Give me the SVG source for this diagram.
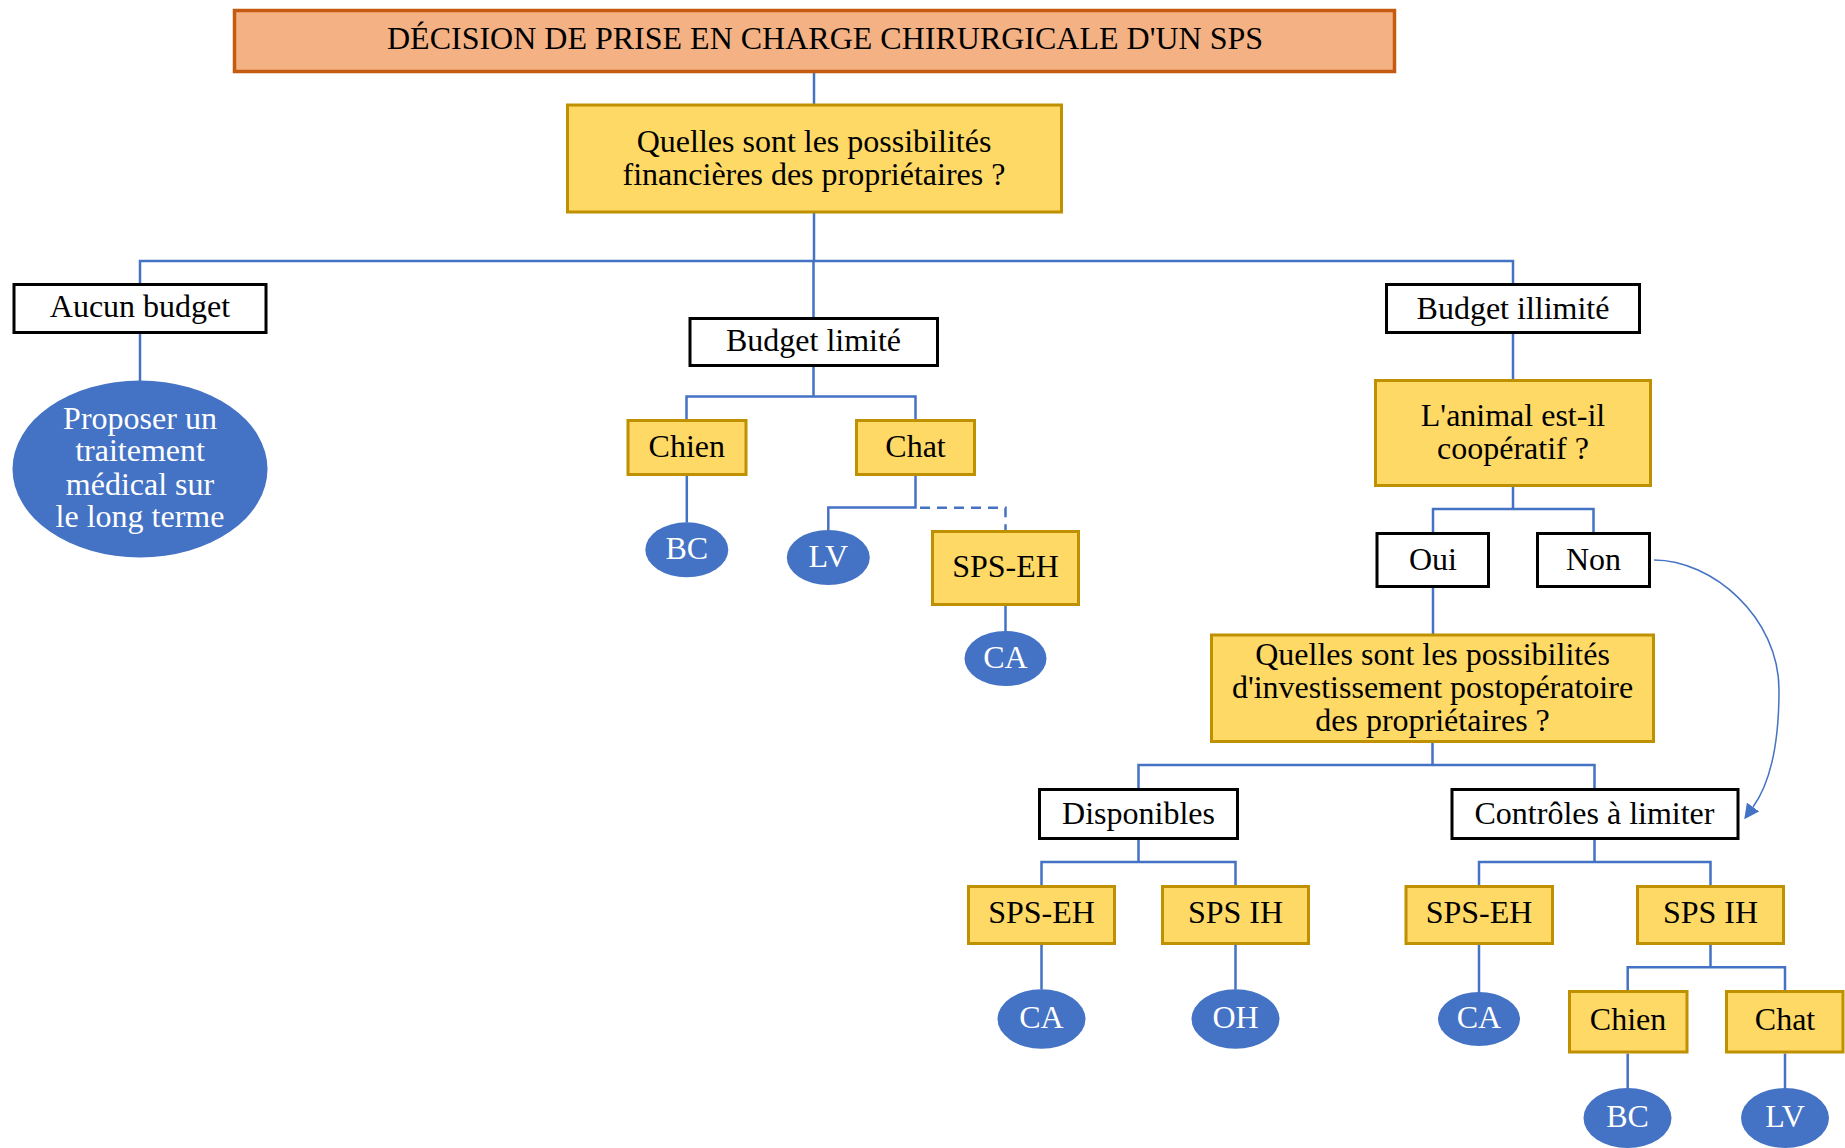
<svg xmlns="http://www.w3.org/2000/svg" width="1845" height="1148" viewBox="0 0 1845 1148">
<defs>
<style>
text{font-family:"Liberation Serif","Times New Roman",serif;font-size:32px;text-anchor:middle;fill:#000}
.title{fill:#F4B183;stroke:#C55A11;stroke-width:3.5}
.y{fill:#FFD966;stroke:#BF9000;stroke-width:3}
.w{fill:#FFFFFF;stroke:#000;stroke-width:3}
.e{fill:#4472C4;stroke:none}
.e text,text.wt{fill:#FFFFFF}
.c{fill:none;stroke:#4472C4;stroke-width:2.5}
.dash{stroke-dasharray:10 7}
.curve{fill:none;stroke:#4472C4;stroke-width:1.5}
</style>
<marker id="arr" markerUnits="userSpaceOnUse" markerWidth="15" markerHeight="15" viewBox="0 0 14 14" refX="0" refY="7" orient="auto">
<path d="M0,0 L14,7 L0,14 z" fill="#4472C4"/>
</marker>
</defs>
<rect width="1845" height="1148" fill="#FFFFFF"/>
<g id="connectors">
<path class="c" d="M814,73 V104"/>
<path class="c" d="M814,213 V261 M140,283 V261 H1513 V283 M813.5,261 V317"/>
<path class="c" d="M140,334 V381"/>
<path class="c" d="M813.5,367 V396.5 M686.5,419 V396.5 H915.5 V419"/>
<path class="c" d="M686.8,476 V522.5"/>
<path class="c" d="M915.5,476 V507.5 H828.3 V530"/>
<path class="c dash" d="M920,507.7 H1005.5 V530"/>
<path class="c" d="M1005.5,606 V631.5"/>
<path class="c" d="M1513,334 V379"/>
<path class="c" d="M1513,487 V509 M1433,532 V509 H1593.5 V532"/>
<path class="c" d="M1433,588 V634"/>
<path class="c" d="M1432.5,743 V765 M1138.5,788 V765 H1594.5 V788"/>
<path class="c" d="M1138.5,840 V862 M1041.5,885 V862 H1235.5 V885"/>
<path class="c" d="M1594.5,840 V862 M1479,885 V862 H1710.5 V885"/>
<path class="c" d="M1041.5,945 V989.5 M1235.5,945 V989.5 M1479,945 V992"/>
<path class="c" d="M1710.5,945 V967.3 M1627.7,990 V967.3 H1785 V990"/>
<path class="c" d="M1627.7,1053.5 V1088.5 M1785,1053.5 V1088.5"/>
<path class="curve" marker-end="url(#arr)" d="M1654,560 C1712,560 1779,617 1779,690 C1779,740 1771,782 1753,807"/>
</g>
<g id="n-title"><rect class="title" x="234.5" y="10.5" width="1160" height="61"/><text x="825" y="49">DÉCISION DE PRISE EN CHARGE CHIRURGICALE D'UN SPS</text></g>
<g id="n-q1"><rect class="y" x="567.5" y="105" width="494" height="107"/><text x="814" y="151.8">Quelles sont les possibilités</text><text x="814" y="184.8">financières des propriétaires ?</text></g>
<g id="n-aucun"><rect class="w" x="14" y="284.5" width="252" height="48"/><text x="140" y="317">Aucun budget</text></g>
<g id="n-proposer" class="e"><ellipse class="e" cx="140" cy="469" rx="127.5" ry="88.5"/><text x="140" y="428.5">Proposer un</text><text x="140" y="461">traitement</text><text x="140" y="494.5">médical sur</text><text x="140" y="527">le long terme</text></g>
<g id="n-limite"><rect class="w" x="690" y="318.5" width="247.5" height="47"/><text x="813.5" y="350.7">Budget limité</text></g>
<g id="n-illimite"><rect class="w" x="1386.5" y="284.5" width="253" height="48"/><text x="1513" y="318.5">Budget illimité</text></g>
<g id="n-chien1"><rect class="y" x="628" y="420.5" width="118" height="54"/><text x="686.8" y="456.7">Chien</text></g>
<g id="n-chat1"><rect class="y" x="856.5" y="420.5" width="118" height="54"/><text x="915.5" y="456.7">Chat</text></g>
<g id="n-bc1" class="e"><ellipse class="e" cx="686.8" cy="549.8" rx="41.5" ry="27.5"/><text x="686.8" y="558.5">BC</text></g>
<g id="n-lv1" class="e"><ellipse class="e" cx="828.3" cy="557.5" rx="41.5" ry="27.5"/><text x="828.3" y="566.5">LV</text></g>
<g id="n-spseh1"><rect class="y" x="932.5" y="531.5" width="146" height="73"/><text x="1005.5" y="576.7">SPS-EH</text></g>
<g id="n-ca1" class="e"><ellipse class="e" cx="1005.5" cy="658.5" rx="41" ry="27.5"/><text x="1005.5" y="667.7">CA</text></g>
<g id="n-animal"><rect class="y" x="1375.5" y="380.5" width="275" height="105"/><text x="1513" y="425.5">L'animal est-il</text><text x="1513" y="458.5">coopératif ?</text></g>
<g id="n-oui"><rect class="w" x="1377" y="533.5" width="111.5" height="53"/><text x="1433" y="570">Oui</text></g>
<g id="n-non"><rect class="w" x="1537.5" y="533.5" width="112" height="53"/><text x="1593.5" y="570">Non</text></g>
<g id="n-q2"><rect class="y" x="1211.5" y="635" width="442" height="106.5"/><text x="1432.5" y="665">Quelles sont les possibilités</text><text x="1432.5" y="698">d'investissement postopératoire</text><text x="1432.5" y="730.5">des propriétaires ?</text></g>
<g id="n-dispo"><rect class="w" x="1039.5" y="789.5" width="198" height="49"/><text x="1138.5" y="823.5">Disponibles</text></g>
<g id="n-controles"><rect class="w" x="1452" y="789.5" width="286" height="49"/><text x="1594.5" y="823.5">Contrôles à limiter</text></g>
<g id="n-spseh2"><rect class="y" x="968.5" y="886.5" width="146" height="57"/><text x="1041.5" y="923.3">SPS-EH</text></g>
<g id="n-spsih2"><rect class="y" x="1162.5" y="886.5" width="146" height="57"/><text x="1235.5" y="923.3">SPS IH</text></g>
<g id="n-spseh3"><rect class="y" x="1406" y="886.5" width="146.5" height="57"/><text x="1479" y="923.3">SPS-EH</text></g>
<g id="n-spsih3"><rect class="y" x="1637.5" y="886.5" width="146" height="57"/><text x="1710.5" y="923.3">SPS IH</text></g>
<g id="n-ca2" class="e"><ellipse class="e" cx="1041.5" cy="1019" rx="44" ry="29.7"/><text x="1041.5" y="1028.3">CA</text></g>
<g id="n-oh" class="e"><ellipse class="e" cx="1235.5" cy="1019" rx="44" ry="29.7"/><text x="1235.5" y="1028.3">OH</text></g>
<g id="n-ca3" class="e"><ellipse class="e" cx="1479" cy="1019" rx="41" ry="27"/><text x="1479" y="1028.3">CA</text></g>
<g id="n-chien2"><rect class="y" x="1569.5" y="991.5" width="117.5" height="60.5"/><text x="1628" y="1030">Chien</text></g>
<g id="n-chat2"><rect class="y" x="1726.5" y="991.5" width="116.5" height="60.5"/><text x="1785" y="1030">Chat</text></g>
<g id="n-bc2" class="e"><ellipse class="e" cx="1627.5" cy="1118" rx="44" ry="30"/><text x="1627.5" y="1127">BC</text></g>
<g id="n-lv2" class="e"><ellipse class="e" cx="1785" cy="1118" rx="44" ry="30"/><text x="1785" y="1127">LV</text></g>
</svg>
